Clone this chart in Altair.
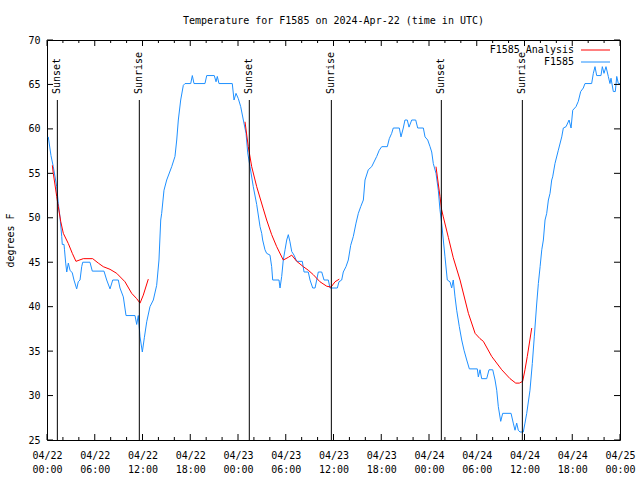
import json
import altair as alt
import pandas as pd

FONT = "DejaVu Sans Mono"

# ---- F1585 observations (hours since 2024-04-22 00:00 UTC, deg F) ----
obs_hours = [0.16, 0.5, 0.79, 1.22, 1.42, 1.63, 1.85, 1.92, 2.14, 2.2, 2.35, 2.48, 2.68, 2.89, 3.18, 3.39,
             3.73, 3.93, 4.15, 4.36, 4.49, 5.40, 5.69, 7.16, 7.50, 7.92, 8.26, 8.96, 9.17, 9.59, 9.93,
             11.06, 11.27, 11.47, 11.69, 11.98, 12.23, 12.53, 12.94, 13.36, 13.78, 14.07, 14.29, 14.41,
             14.70, 15.04, 15.67, 16.08, 16.30, 16.50, 16.80, 17.13, 17.34, 18.06, 18.26, 18.47, 19.85,
             20.07, 21.02, 21.24, 21.40, 21.61, 23.28, 23.50, 23.75, 24.04, 24.34, 24.67, 25.01, 25.22,
             25.51, 25.92, 26.35, 26.77, 26.98, 27.10, 27.39, 27.60, 28.02, 28.23, 28.36, 29.15, 29.28,
             29.49, 29.69, 29.91, 30.12, 30.32, 30.53, 30.75, 31.04, 31.38, 32.08, 32.30, 32.83, 33.05,
             33.39, 33.68, 33.89, 34.09, 34.52, 34.81, 35.35, 35.56, 36.48, 36.69, 37.03, 37.23, 37.57,
             37.86, 38.16, 38.49, 38.83, 39.12, 39.42, 39.75, 39.96, 40.37, 40.80, 41.43, 41.75, 42.06,
             42.76, 43.01, 43.31, 43.51, 44.27, 44.48, 44.77, 44.98, 45.27, 45.49, 45.83, 46.33, 46.58,
             47.29, 47.50, 47.84, 48.13, 48.34, 48.54, 48.88, 49.17, 49.38, 49.59, 49.80, 50.01, 50.30,
             50.64, 50.85, 51.05, 51.27, 51.48, 51.81, 52.11, 52.40, 52.74, 53.07, 54.07, 54.20, 54.41,
             54.62, 55.25, 55.54, 56.01, 56.30, 56.51, 56.71, 57.01, 57.26, 58.31, 58.59, 58.81, 59.02,
             59.22, 59.44, 59.85, 60.06, 60.28, 60.69, 60.98, 61.23, 61.53, 61.74, 61.96, 62.17, 62.37,
             62.58, 62.79, 63.00, 63.21, 63.42, 63.54, 63.83, 64.25, 64.68, 64.88, 65.22, 65.60, 65.85,
             66.06, 66.47, 66.76, 67.06, 67.39, 67.60, 68.44, 68.65, 68.86, 69.07, 69.61, 69.78, 69.99,
             70.24, 70.53, 70.74, 70.87, 71.16, 71.41, 71.59, 71.79, 72.0]
obs_temps = [59.1, 57.0, 55.75, 53.5, 51.6, 50.1, 47.9, 47.0, 47.0, 46.4, 44.9, 43.9, 44.9, 44.1, 43.8, 43.0,
             42.0, 42.8, 43.0, 44.5, 45.0, 45.0, 44.0, 44.0, 43.0, 42.0, 43.0, 43.0, 42.1, 41.1, 39.0,
             39.0, 38.0, 39.0, 36.6, 34.9, 36.5, 38.3, 40.0, 40.75, 42.4, 45.25, 49.75, 50.5,
             53.1, 54.25, 55.75, 56.9, 58.75, 61.0, 63.25, 64.9, 65.1, 65.1, 66.0, 65.1, 65.1,
             66.0, 66.0, 65.3, 65.9, 65.1, 65.1, 63.25, 64.0, 63.4, 62.5, 61.0, 59.5, 57.3,
             55.75, 53.5, 51.5, 49.0, 48.25, 47.5, 46.4, 46.0, 45.8, 44.5, 43.0, 43.0, 42.1,
             43.4, 45.25, 46.4, 47.5, 48.1, 47.3, 46.2, 45.8, 45.1, 45.1, 43.9, 43.9, 43.0,
             42.1, 42.1, 43.0, 43.9, 43.9, 43.0, 43.0, 42.1, 42.1, 42.8, 43.0, 43.9, 44.5,
             45.25, 46.9, 47.9, 49.4, 50.5, 51.25, 52.0, 54.25, 55.4, 55.75, 56.9, 57.6, 58.0,
             58.0, 58.9, 59.5, 60.1, 60.1, 59.1, 60.1, 61.0, 61.0, 60.2, 61.0, 61.0, 60.1,
             60.1, 59.1, 58.75, 58.0, 57.4, 56.1, 55.0, 53.1, 50.9, 49.4, 47.5, 45.6, 43.0,
             42.8, 42.1, 43.0, 41.1, 39.6, 37.75, 36.25, 35.1, 34.0, 33.0, 33.0, 32.1, 32.9,
             31.9, 31.9, 32.9, 32.9, 31.75, 30.6, 28.75, 27.1, 28.0, 28.0, 26.9, 26.1, 26.9,
             26.1, 25.9, 25.9, 26.9, 28.0, 30.6, 33.6, 36.6, 40.3, 42.6, 44.5, 46.4, 47.5,
             49.75, 50.5, 52.0, 52.75, 54.25, 54.6, 56.1, 57.6, 59.1, 60.1, 60.25, 61.0, 60.1,
             62.1, 62.5, 63.1, 64.2, 64.6, 65.1, 65.1, 66.25, 67.0, 66.0, 66.0, 67.0, 66.25,
             67.0, 65.9, 65.1, 65.7, 64.2, 64.2, 65.9, 65.1, 65.1]

# ---- F1585 Analysis (three overnight segments) ----
ana_hours = [0.67, 0.79, 1.22, 1.42, 1.72, 2.05, 2.68, 3.18, 3.64, 4.56, 5.74, 6.45, 7.07, 7.92, 8.76,
             9.80, 10.64, 11.27, 11.69, 12.10, 12.73,
             24.88, 25.29, 25.72, 26.35, 27.18, 27.60, 28.23, 28.86, 29.69, 30.32, 30.75, 31.38, 32.21,
             32.83, 33.46, 34.30, 35.15, 35.69, 36.19, 36.73,
             48.88, 49.38, 49.59, 49.80, 50.43, 51.05, 51.90, 52.95, 53.79, 54.41, 54.83, 55.88, 57.14,
             58.18, 58.90, 59.35, 59.77, 60.06, 60.35, 60.91]
ana_temps = [55.9, 55.0, 52.4, 51.25, 49.6, 48.25, 47.1, 46.0, 45.1, 45.4, 45.4, 44.9, 44.5, 44.2, 43.75,
             42.8, 41.5, 40.9, 40.4, 41.3, 43.1,
             60.8, 58.0, 55.75, 53.5, 51.0, 49.75, 48.1, 46.75, 45.25, 45.55, 45.8, 45.1, 44.5,
             44.1, 43.6, 42.8, 42.3, 42.2, 42.8, 43.1,
             55.75, 52.4, 50.9, 50.1, 47.8, 45.5, 43.0, 39.25, 37.0, 36.4, 36.1, 34.4, 32.9,
             31.9, 31.4, 31.4, 31.6, 32.9, 34.4, 37.6]
ana_segments = [1] * 21 + [2] * 20 + [3] * 20

# ---- sun events ----
event_hours = [1.30, 11.60, 25.42, 35.73, 49.55, 59.73]
event_names = ["Sunset", "Sunrise", "Sunset", "Sunrise", "Sunset", "Sunrise"]

# ---- axes ----
x_major = [0, 6, 12, 18, 24, 30, 36, 42, 48, 54, 60, 66, 72]
x_minor = [2, 4, 8, 10, 14, 16, 20, 22, 26, 28, 32, 34, 38, 40, 44, 46, 50, 52, 56, 58, 62, 64, 68, 70]
date_labels = ["04/22", "04/22", "04/22", "04/22", "04/23", "04/23", "04/23", "04/23",
               "04/24", "04/24", "04/24", "04/24", "04/25"]
time_labels = ["00:00", "06:00", "12:00", "18:00", "00:00", "06:00", "12:00", "18:00",
               "00:00", "06:00", "12:00", "18:00", "00:00"]
y_ticks = [25, 30, 35, 40, 45, 50, 55, 60, 65, 70]

legend_names = ["F1585 Analysis", "F1585"]
legend_colors = ["#ff0000", "#1e90ff"]

W, H = 573, 400

obs_df = pd.DataFrame({"h": obs_hours, "T": obs_temps})
ana_df = pd.DataFrame({"h": ana_hours, "T": ana_temps, "seg": ana_segments})
ev_df = pd.DataFrame({"h": event_hours, "name": event_names})
xmaj_df = pd.DataFrame({"v": x_major})
xmin_df = pd.DataFrame({"v": x_minor})
y_df = pd.DataFrame({"v": y_ticks})

label_expr = ("[" + json.dumps(date_labels) + "[round(datum.value/6)], "
              + json.dumps(time_labels) + "[round(datum.value/6)]]")

xscale = alt.Scale(domain=[0, 72], nice=False, zero=False)
yscale = alt.Scale(domain=[25, 70], nice=False, zero=False)

x_enc = alt.X("h:Q", scale=xscale,
              axis=alt.Axis(values=x_major, labelExpr=label_expr, ticks=False, domain=False, grid=False,
                            labelFont=FONT, labelFontSize=10, labelColor="black", labelPadding=10,
                            labelBaseline="top", labelLineHeight=14, labelFlush=False,
                            labelOverlap=False, labelBound=False, title=None))
y_enc = alt.Y("T:Q", scale=yscale,
              axis=alt.Axis(values=y_ticks, format="d", ticks=False, domain=False, grid=False,
                            labelFont=FONT, labelFontSize=10, labelColor="black", labelPadding=7,
                            title="degrees F", titleFont=FONT, titleFontSize=10,
                            titleFontWeight="normal", titleColor="black", titlePadding=12))

blue = alt.Chart(obs_df).mark_line(color=legend_colors[1], strokeWidth=1).encode(x=x_enc, y=y_enc)
red = alt.Chart(ana_df).mark_line(color=legend_colors[0], strokeWidth=1).encode(
    x=alt.X("h:Q", scale=xscale), y=alt.Y("T:Q", scale=yscale), detail="seg:N")

ev_rules = alt.Chart(ev_df).mark_rule(color="black", strokeWidth=1).encode(
    x=alt.X("h:Q", scale=xscale), y=alt.value(60), y2=alt.value(H))
ev_text = alt.Chart(ev_df).mark_text(angle=270, align="left", baseline="middle", font=FONT,
                                     fontSize=10, color="black").encode(
    x=alt.X("h:Q", scale=xscale), y=alt.value(54), text="name:N")

tick_layers = [
    alt.Chart(xmaj_df).mark_rule(color="black").encode(x=alt.X("v:Q", scale=xscale), y=alt.value(H), y2=alt.value(H - 6)),
    alt.Chart(xmaj_df).mark_rule(color="black").encode(x=alt.X("v:Q", scale=xscale), y=alt.value(0), y2=alt.value(6)),
    alt.Chart(xmin_df).mark_rule(color="black").encode(x=alt.X("v:Q", scale=xscale), y=alt.value(H), y2=alt.value(H - 3)),
    alt.Chart(xmin_df).mark_rule(color="black").encode(x=alt.X("v:Q", scale=xscale), y=alt.value(0), y2=alt.value(3)),
    alt.Chart(y_df).mark_rule(color="black").encode(y=alt.Y("v:Q", scale=yscale), x=alt.value(0), x2=alt.value(6)),
    alt.Chart(y_df).mark_rule(color="black").encode(y=alt.Y("v:Q", scale=yscale), x=alt.value(W), x2=alt.value(W - 6)),
]

leg_text = [
    alt.Chart(pd.DataFrame({"n": [legend_names[0]]})).mark_text(align="right", baseline="middle", font=FONT,
                                                                fontSize=10, color="black").encode(
        text="n:N", x=alt.value(527), y=alt.value(10)),
    alt.Chart(pd.DataFrame({"n": [legend_names[1]]})).mark_text(align="right", baseline="middle", font=FONT,
                                                                fontSize=10, color="black").encode(
        text="n:N", x=alt.value(527), y=alt.value(22)),
]
leg_lines = [
    alt.Chart(pd.DataFrame({"n": [legend_names[0]]})).mark_rule(color=legend_colors[0], strokeWidth=1).encode(
        x=alt.value(534), x2=alt.value(563), y=alt.value(10)),
    alt.Chart(pd.DataFrame({"n": [legend_names[1]]})).mark_rule(color=legend_colors[1], strokeWidth=1).encode(
        x=alt.value(534), x2=alt.value(563), y=alt.value(22)),
]

chart = alt.layer(blue, red, ev_rules, ev_text, *tick_layers, *leg_text, *leg_lines).properties(
    width=W, height=H,
    autosize=alt.AutoSizeParams(type="none"),
    padding={"left": 47, "top": 40, "right": 20, "bottom": 40},
    background="white",
    title=alt.Title("Temperature for F1585 on 2024-Apr-22 (time in UTC)", font=FONT, fontSize=10,
                    fontWeight="normal", color="black", anchor="middle", offset=9),
).configure_view(stroke="black", strokeWidth=1)

chart.save("out.html", embed_options={"renderer": "svg", "actions": False})
